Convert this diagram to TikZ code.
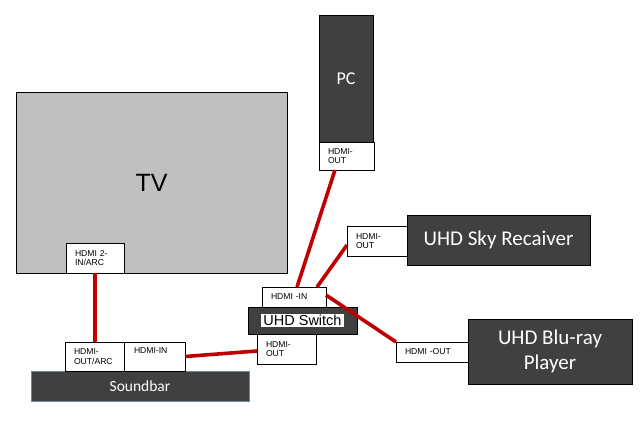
\documentclass[tikz,border=0pt]{standalone}
\usepackage{fontspec}
\setmainfont{Liberation Sans}
\newfontfamily\boxfont{Carlito}
\definecolor{geraet}{HTML}{404040}
\definecolor{kabel}{HTML}{C00000}
\definecolor{tvgrau}{HTML}{C0C0C0}
\definecolor{randblau}{HTML}{6F86A3}
\begin{document}
\begin{tikzpicture}[
    x=1pt, y=-1pt,
    port/.style={draw, fill=white, line width=0.6pt, anchor=north west,
                 font=\fontsize{8.6}{9.8}\selectfont, align=left,
                 inner xsep=9pt, inner ysep=0pt, outer sep=0pt},
    geraet/.style={draw=black, fill=geraet, line width=0.6pt, anchor=north west,
                   text=white, align=center, inner sep=0pt, outer sep=0pt},
    kabel/.style={draw=kabel, line width=3.6pt}]

  \useasboundingbox (0,0) rectangle (640,428);

  % TV
  \node[geraet, fill=tvgrau, text=black, minimum width=271, minimum height=181,
        font=\fontsize{25}{29}\selectfont] (tv) at (16,92) {TV};
  \node[port, text width=40, minimum height=30] (tvin) at (66,243) {HDMI 2-\\IN/ARC};

  % PC
  \node[geraet, minimum width=54, minimum height=127,
        font=\boxfont\fontsize{18}{22}\selectfont] (pc) at (319,15) {PC};
  \node[port, text width=37, minimum height=28] (pcout) at (319,142) {HDMI-\\OUT};

  % Sky
  \node[geraet, minimum width=183, minimum height=50,
        font=\boxfont\fontsize{21}{25}\selectfont] (sky) at (407,215) {UHD Sky Recaiver};
  \node[port, text width=42, minimum height=30] (skyout) at (347,226) {HDMI-\\OUT};

  % Blu-ray
  \node[geraet, minimum width=164, minimum height=65,
        font=\boxfont\fontsize{21}{25}\selectfont] (blu) at (468,319) {UHD Blu-ray\\Player};
  \node[port, text width=54, minimum height=20] (bluout) at (396,342) {HDMI -OUT};

  % Switch
  \node[port, text width=46, minimum height=20] (swin) at (262,287) {HDMI -IN};
  \node[geraet, minimum width=109, minimum height=27] (switch) at (248,307) {};
  \node[fill=white, text=black, inner xsep=2pt, inner ysep=1pt,
        font=\fontsize{14.5}{16}\selectfont] (swname) at (switch.center) {UHD Switch};
  \node[port, text width=41, minimum height=30] (swout) at (257,334) {HDMI-\\OUT};

  % Soundbar
  \node[geraet, draw=randblau, minimum width=218, minimum height=30,
        font=\boxfont\fontsize{15.5}{18}\selectfont] (sound) at (31,371) {Soundbar};
  \node[port, text width=41, minimum height=29] (sbout) at (65,342) {HDMI-\\OUT/ARC};
  \node[port, text width=41, minimum height=29, inner xsep=10pt] (sbin) at (124,342) {HDMI-IN\\\strut};

  % Kabel
  \draw[kabel] (tvin.south) -- (tvin.south |- sbout.north);
  \draw[kabel] (sbin.east) -- ([yshift=-2]swout.west);
  \draw[kabel] ([xshift=16]pcout.south west) -- ([xshift=35]swin.north west);
  \draw[kabel] ([yshift=-4]skyout.west) -- ([xshift=55]swin.north west);
  \draw[kabel] ([yshift=-8]swin.north east) -- (bluout.north west);

\end{tikzpicture}
\end{document}
